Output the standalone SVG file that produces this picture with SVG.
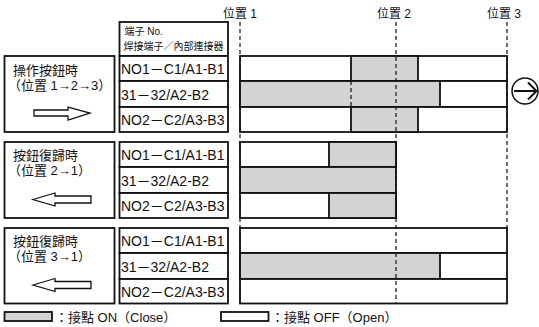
<svg xmlns="http://www.w3.org/2000/svg" width="539" height="327" viewBox="0 0 539 327">
<style>
text{font-family:"Liberation Sans","Noto Sans CJK TC",sans-serif;fill:#111}
.box{fill:#fff;stroke:#111;stroke-width:1.8}
.on{fill:#d3d3d3;stroke:#111;stroke-width:1.8}
.off{fill:#fff;stroke:#111;stroke-width:1.8}
.row{font-size:14px}
.lbl{font-size:13px}
.pos{font-size:12px}
.hdr{font-size:10px}
.leg{font-size:13px}
.dash{stroke:#111;stroke-width:1.2;stroke-dasharray:4 3;fill:none}
.arr{fill:#fff;stroke:#111;stroke-width:1.3;stroke-linejoin:miter}
</style>

<g id="header">
  <rect class="box" x="119.5" y="22" width="108.5" height="34"/>
  <text class="hdr" x="124.5" y="35">端子 No.</text>
  <text class="hdr" x="123.5" y="50">焊接端子／內部連接器</text>
  <text class="pos" x="223" y="18">位置 1</text>
  <text class="pos" x="377" y="18">位置 2</text>
  <text class="pos" x="487" y="18">位置 3</text>
</g>

<g id="section1">
  <rect class="box" x="4.5" y="56" width="110" height="76"/>
  <text class="lbl" x="13" y="75">操作按鈕時</text>
  <text class="lbl" x="8" y="90">（位置 1→2→3）</text>
  <polygon class="arr" points="34,110 68,110 68,107 90,113 68,120 68,116 34,116"/>
  <rect class="box" x="119.5" y="56" width="108.5" height="25"/>
  <rect class="box" x="119.5" y="81" width="108.5" height="26"/>
  <rect class="box" x="119.5" y="107" width="108.5" height="25"/>
  <text class="row" x="121" y="74">NO1－C1/A1-B1</text>
  <text class="row" x="121" y="99.5">31－32/A2-B2</text>
  <text class="row" x="121" y="125">NO2－C2/A3-B3</text>
  <rect class="off" x="240" y="56" width="267" height="25"/>
  <rect class="on" x="351" y="56" width="67" height="25"/>
  <rect class="off" x="240" y="81" width="267" height="26"/>
  <rect class="on" x="240" y="81" width="200" height="26"/>
  <rect class="off" x="240" y="107" width="267" height="25"/>
  <rect class="on" x="351" y="107" width="67" height="25"/>
  <line class="dash" x1="351" y1="81" x2="351" y2="107"/>
</g>

<g id="section2">
  <rect class="box" x="4.5" y="142" width="110" height="76"/>
  <text class="lbl" x="13" y="160">按鈕復歸時</text>
  <text class="lbl" x="8" y="175">（位置 2→1）</text>
  <polygon class="arr" points="33,199.5 55,193 55,196 91,196 91,203 55,203 55,206"/>
  <rect class="box" x="119.5" y="142" width="108.5" height="25"/>
  <rect class="box" x="119.5" y="167" width="108.5" height="26"/>
  <rect class="box" x="119.5" y="193" width="108.5" height="25"/>
  <text class="row" x="121" y="160">NO1－C1/A1-B1</text>
  <text class="row" x="121" y="185.5">31－32/A2-B2</text>
  <text class="row" x="121" y="211">NO2－C2/A3-B3</text>
  <rect class="off" x="240" y="142" width="156" height="25"/>
  <rect class="on" x="329" y="142" width="67" height="25"/>
  <rect class="on" x="240" y="167" width="156" height="26"/>
  <rect class="off" x="240" y="193" width="156" height="25"/>
  <rect class="on" x="329" y="193" width="67" height="25"/>
</g>

<g id="section3">
  <rect class="box" x="4.5" y="228" width="110" height="75.5"/>
  <text class="lbl" x="13" y="246">按鈕復歸時</text>
  <text class="lbl" x="8" y="261">（位置 3→1）</text>
  <polygon class="arr" points="33,285 55,278.5 55,281.5 91,281.5 91,288.5 55,288.5 55,291.5"/>
  <rect class="box" x="119.5" y="228" width="108.5" height="25"/>
  <rect class="box" x="119.5" y="253" width="108.5" height="26"/>
  <rect class="box" x="119.5" y="279" width="108.5" height="24.5"/>
  <text class="row" x="121" y="246">NO1－C1/A1-B1</text>
  <text class="row" x="121" y="271.5">31－32/A2-B2</text>
  <text class="row" x="121" y="297">NO2－C2/A3-B3</text>
  <rect class="off" x="240" y="228" width="267" height="25"/>
  <rect class="off" x="240" y="253" width="267" height="26"/>
  <rect class="on" x="240" y="253" width="200" height="26"/>
  <rect class="off" x="240" y="279" width="267" height="24.5"/>
</g>

<g id="guides">
  <line class="dash" x1="240" y1="22" x2="240" y2="304"/>
  <line class="dash" x1="396" y1="22" x2="396" y2="304"/>
  <line class="dash" x1="507" y1="22" x2="507" y2="228"/>
</g>

<g id="direction">
  <circle cx="525" cy="91" r="13" fill="#fff" stroke="#111" stroke-width="1.5"/>
  <path d="M514 91 H536 M528 82.5 L536.5 91 L528 99.5" fill="none" stroke="#111" stroke-width="2"/>
</g>

<g id="legend">
  <rect class="on" x="4.5" y="312" width="47.5" height="9" stroke-width="1.4"/>
  <text class="leg" x="55" y="322">：接點 ON（Close）</text>
  <rect class="off" x="221" y="312" width="47.5" height="9" stroke-width="1.4"/>
  <text class="leg" x="271" y="322">：接點 OFF（Open）</text>
</g>
</svg>
